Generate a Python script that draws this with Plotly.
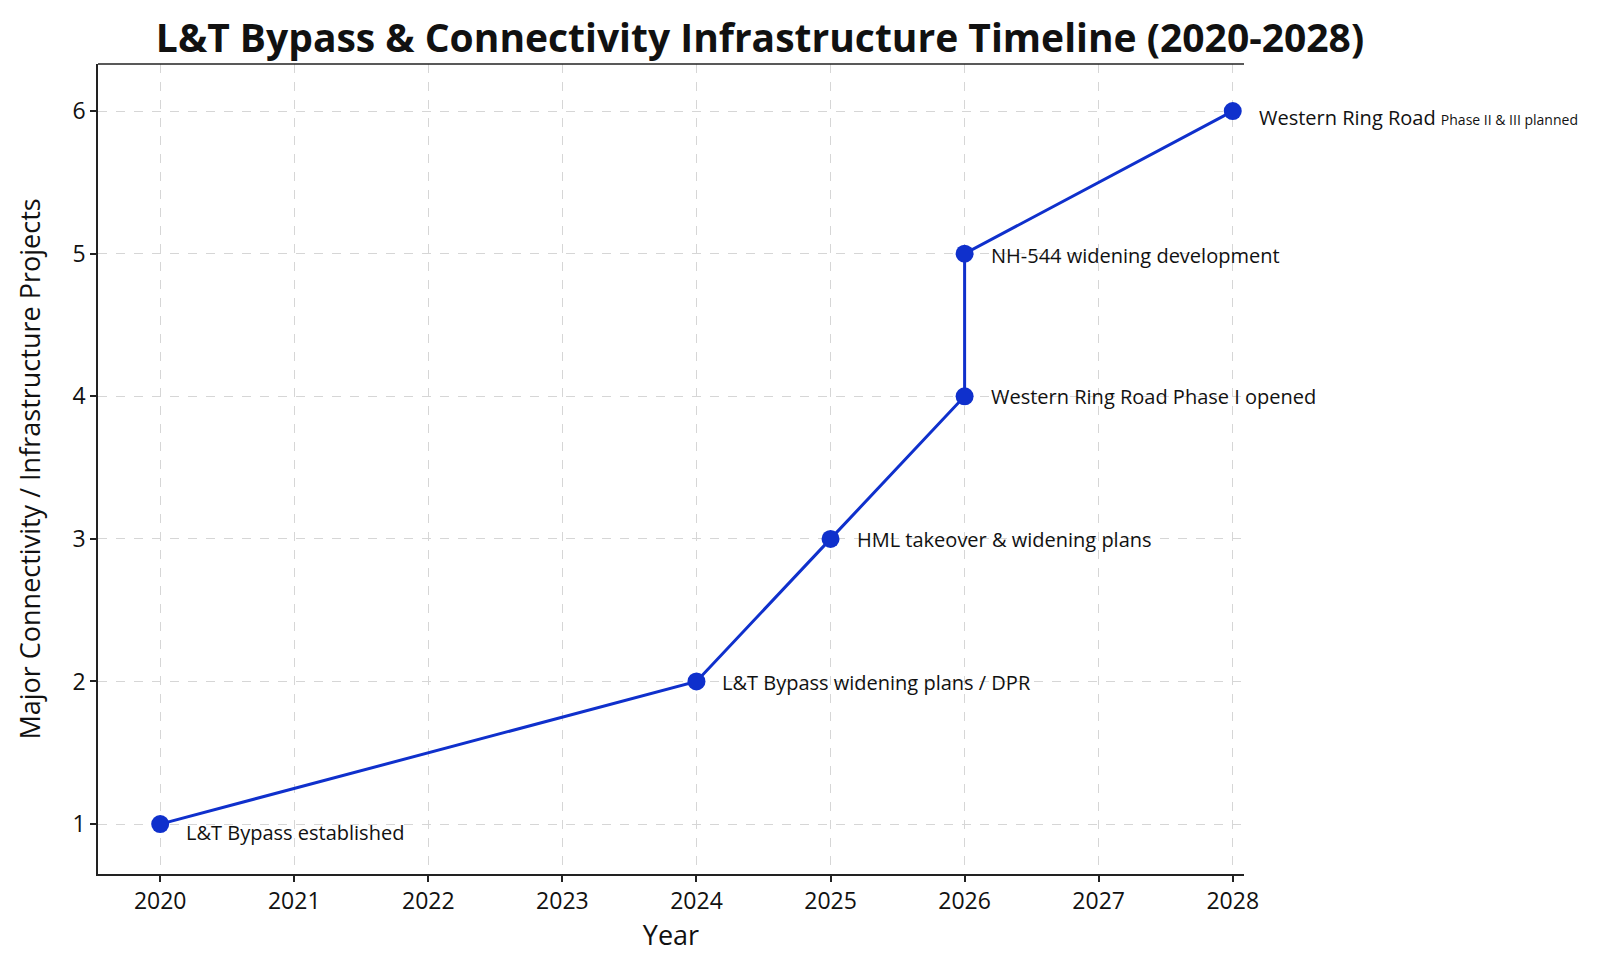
import plotly.graph_objects as go

years = [2020, 2024, 2025, 2026, 2026, 2028]
projects = [1, 2, 3, 4, 5, 6]
milestones = [
    "L&T Bypass established",
    "L&T Bypass widening plans / DPR",
    "HML takeover & widening plans",
    "Western Ring Road Phase I opened",
    "NH-544 widening development",
    "Western Ring Road <span style='font-size:14px'>Phase II & III planned</span>",
]
label_dy = [-8, -1, -1, 0, -2, -6]

year_ticks = [2020, 2021, 2022, 2023, 2024, 2025, 2026, 2027, 2028]
project_ticks = [1, 2, 3, 4, 5, 6]

BLUE = "#0f30cc"
FONT = "Open Sans"

fig = go.Figure()

fig.add_trace(go.Scatter(
    x=years,
    y=projects,
    mode="lines+markers",
    line=dict(color=BLUE, width=3),
    marker=dict(color=BLUE, size=18),
    showlegend=False,
    hoverinfo="skip",
))

for yr, n, txt, dy in zip(years, projects, milestones, label_dy):
    fig.add_annotation(
        x=yr, y=n, text=txt, showarrow=False,
        xanchor="left", yanchor="middle",
        xshift=24, yshift=dy,
        font=dict(family=FONT, size=20, color="#111111"),
    )

# top frame line (no right spine in the original)
fig.add_shape(type="line", xref="paper", yref="paper", x0=0, x1=1, y0=1, y1=1,
              line=dict(color="#222222", width=1.5))

axis_common = dict(
    showgrid=True,
    gridcolor="#d6d6d6",
    griddash="dash",
    gridwidth=1,
    showline=True,
    linecolor="#222222",
    linewidth=1.5,
    ticks="outside",
    ticklen=6,
    tickwidth=1.5,
    tickcolor="#222222",
    zeroline=False,
    tickfont=dict(family=FONT, size=23, color="#111111"),
)

fig.update_xaxes(
    **axis_common,
    range=[2019.536, 2028.084],
    tickvals=year_ticks,
    title=dict(text="Year", font=dict(family=FONT, size=27, color="#111111"), standoff=10),
)
fig.update_yaxes(
    **axis_common,
    range=[0.65, 6.33],
    tickvals=project_ticks,
    title=dict(text="Major Connectivity / Infrastructure Projects",
               font=dict(family=FONT, size=27, color="#111111"), standoff=24),
)

fig.update_layout(
    width=1600,
    height=964,
    title=dict(
        text="<b>L&T Bypass & Connectivity Infrastructure Timeline (2020-2028)</b>",
        x=0.47, xanchor="center", y=0.968, yanchor="middle",
        font=dict(family=FONT, size=39, color="#111111"),
    ),
    paper_bgcolor="white",
    plot_bgcolor="white",
    margin=dict(l=90, r=364, t=56, b=98),
)

fig.write_html("out.html")
